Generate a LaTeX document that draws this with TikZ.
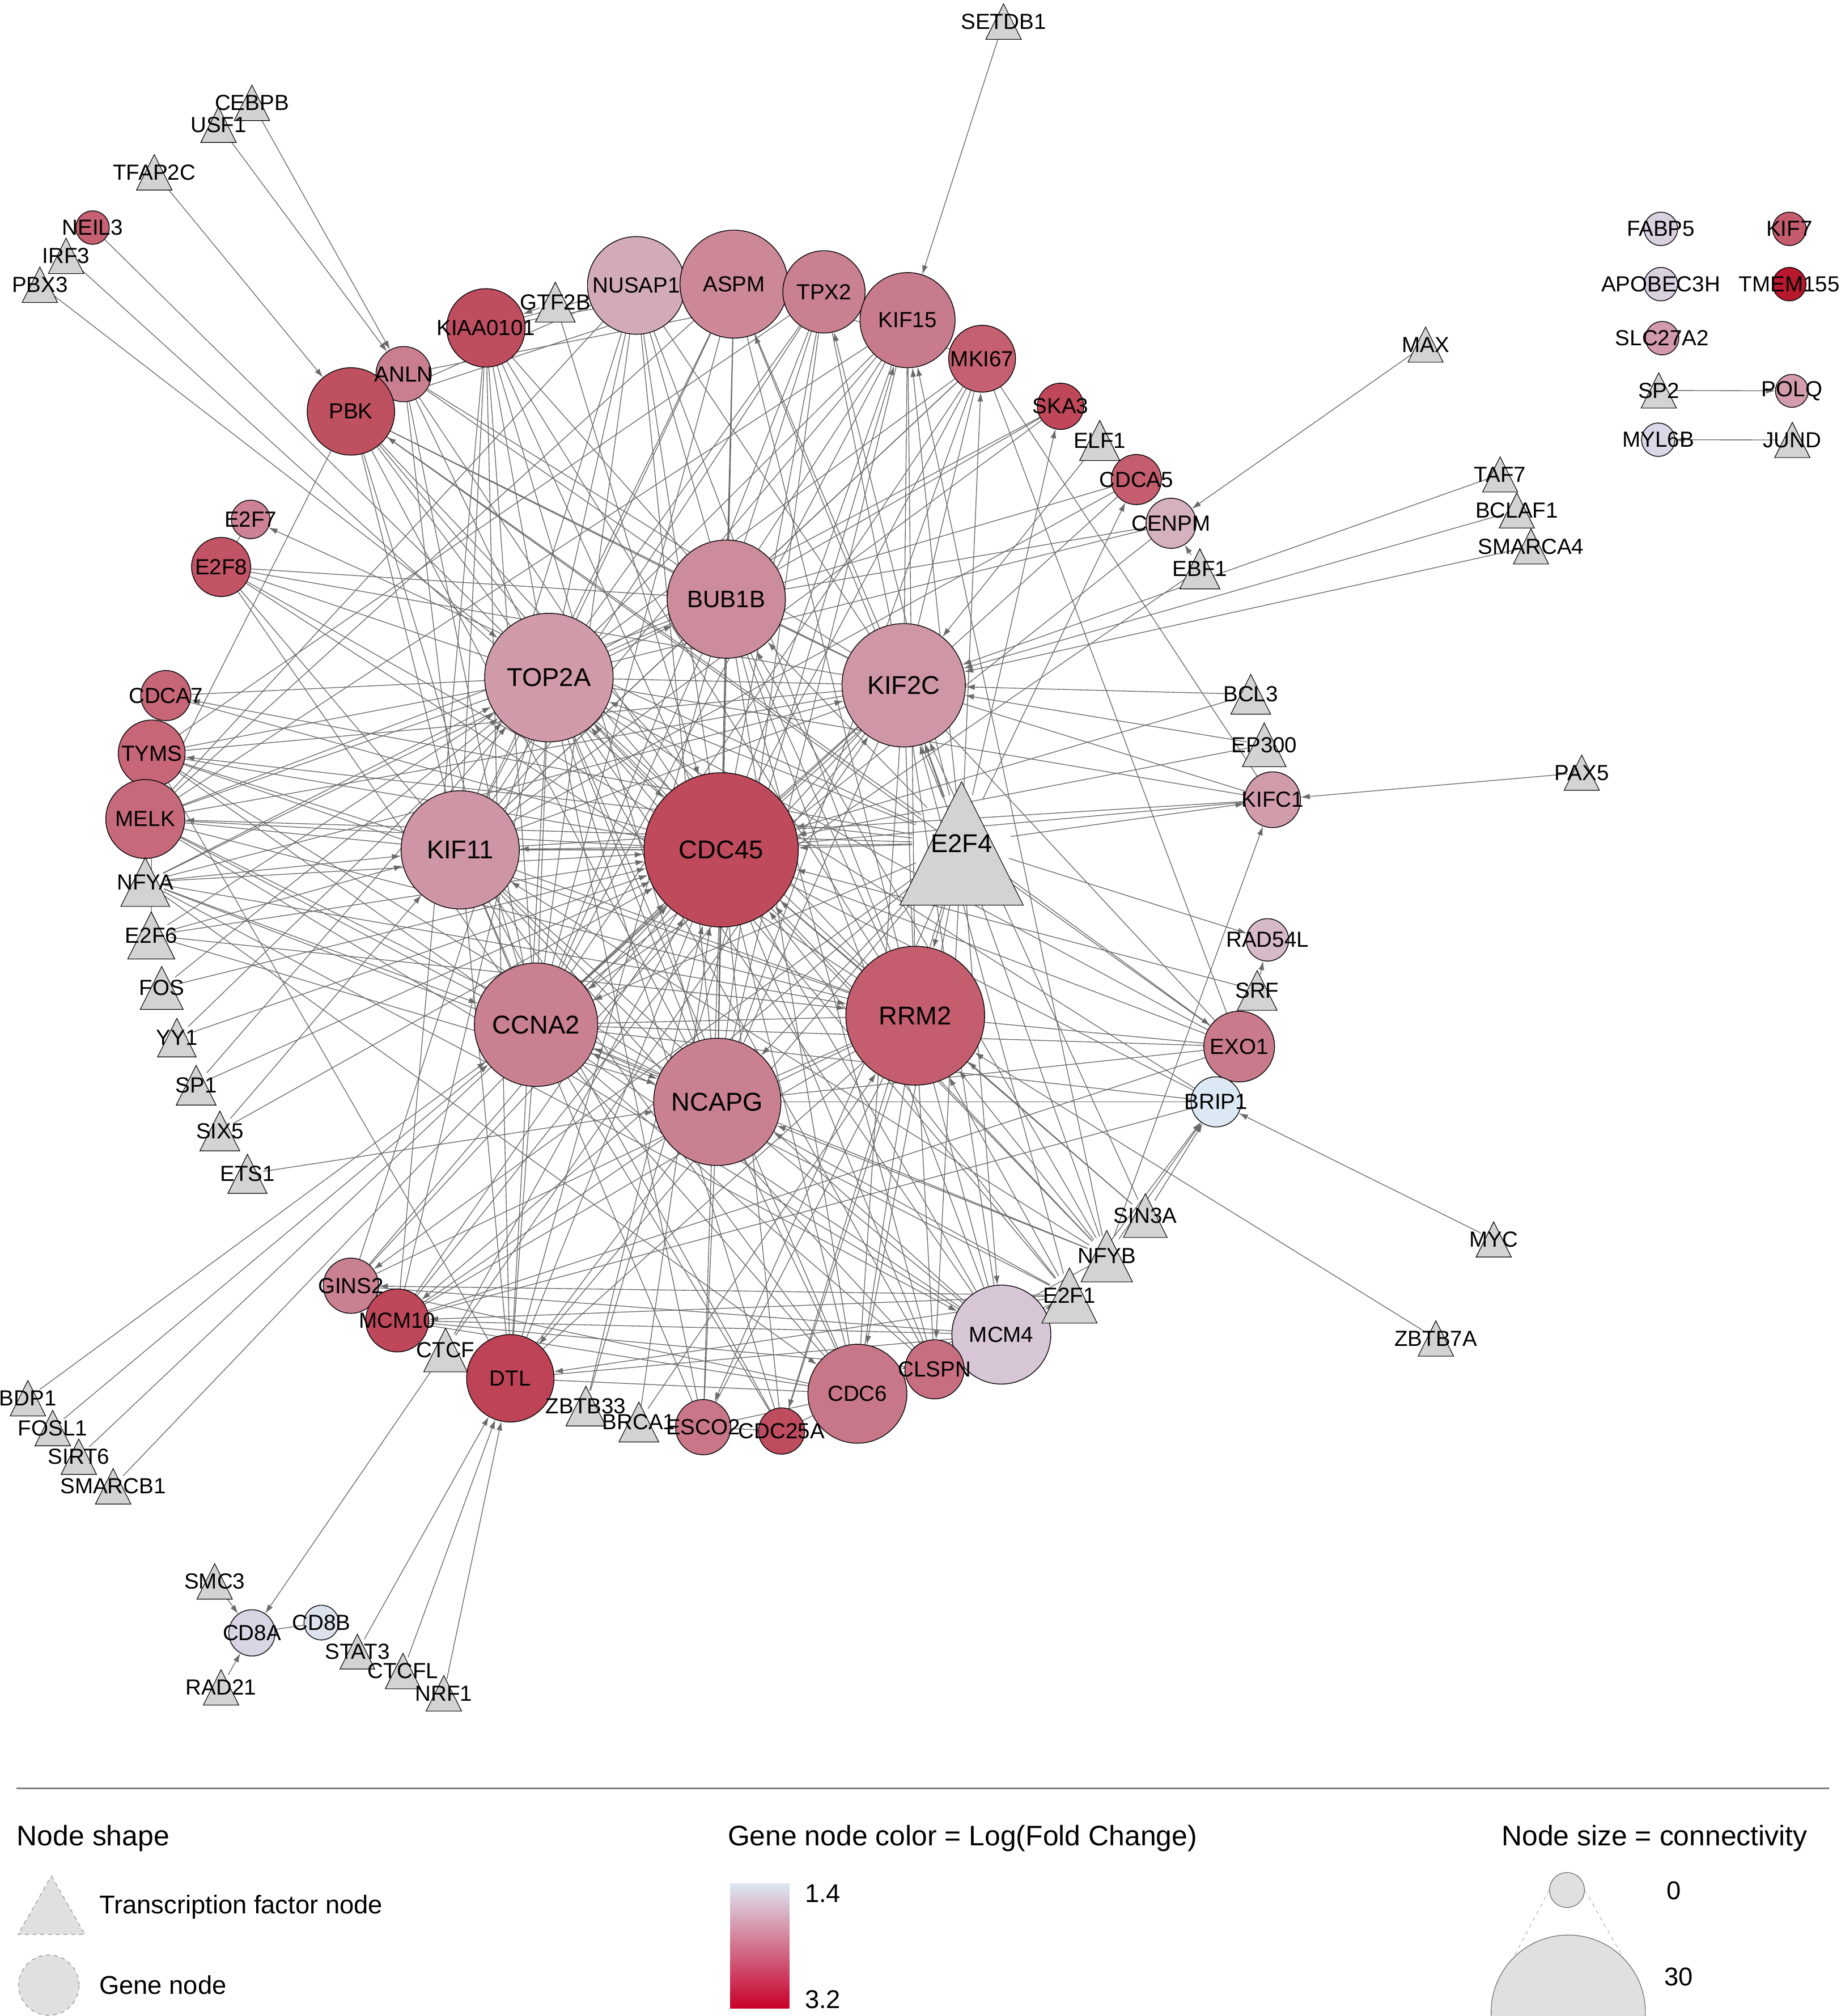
\documentclass[tikz,border=0pt]{standalone}
\usepackage{fontspec}
\setmainfont{Liberation Sans}
\usetikzlibrary{arrows.meta,backgrounds}
\pgfdeclarelayer{foreground}
\pgfsetlayers{background,main,foreground}
\definecolor{edgec}{HTML}{6A6A6A}
\definecolor{tfc}{HTML}{D3D3D3}
\definecolor{legc}{HTML}{E0E0E0}
\definecolor{grTop}{HTML}{DDE7F3}
\definecolor{grMid}{HTML}{D699AA}
\definecolor{grBot}{HTML}{C8002A}
\tikzset{
  gene/.style={circle, draw=black, line width=0.6pt, inner sep=0pt},
  tfn/.style={circle, draw=none, inner sep=0pt},
  tfshape/.style={fill=tfc, draw=black, line width=0.5pt, line join=miter},
  lab/.style={inner sep=0pt, text=black},
  fsm/.style={font=\fontsize{17}{19}\selectfont},
  fmid/.style={font=\fontsize{18.5}{20}\selectfont},
  fbig/.style={font=\fontsize{20}{22}\selectfont},
  fleg/.style={font=\fontsize{22}{24}\selectfont},
  fitem/.style={font=\fontsize{20}{22}\selectfont},
  gg/.style={draw=edgec, line width=0.6pt},
  tfe/.style={draw=edgec, line width=0.6pt, -{Latex[length=7pt,width=4.5pt]}},
}
\newcommand\gn[6]{%
  \definecolor{c#1}{HTML}{#5}%
  \node[gene, minimum size=#4*2pt, fill=c#1] (#1) at (#2,#3) {};%
  \begin{pgfonlayer}{foreground}\node[lab,#6] (#1-t) at (#2,#3) {#1};\end{pgfonlayer}%
}
\newcommand\tfnode[5]{%
  \node[tfn, minimum size=#4*1.6pt] (#1) at (#2,#3) {};%
  \draw[tfshape] (#2,#3) ++(0,-#4) -- ++(#4,2*#4) -- ++(-2*#4,0) -- cycle;%
  \begin{pgfonlayer}{foreground}\node[lab,#5] (#1-t) at (#2,#3) {#1};\end{pgfonlayer}%
}
\newcommand\edgesfrom[3]{\foreach \tg in {#3} {\draw[#1] (#2) -- (\tg);}}
\begin{document}
\begin{tikzpicture}[x=1pt,y=-1pt]
\useasboundingbox (0,0) rectangle (1432,1568);
\begin{pgfonlayer}{background}
\fill[white] (0,0) rectangle (1432,1568);
\end{pgfonlayer}

% ---------- gene nodes ----------
\gn{CDC45}{561}{661}{60}{BE4A5C}{fbig}
\gn{RRM2}{712}{790}{54}{C45E6F}{fbig}
\gn{NCAPG}{558}{857}{49.5}{C98090}{fbig}
\gn{CCNA2}{417}{797}{48}{C98090}{fbig}
\gn{KIF11}{358}{661}{46}{CE95A4}{fbig}
\gn{TOP2A}{427}{527}{50}{D09AA8}{fbig}
\gn{BUB1B}{565}{466}{46}{CC8C9C}{fmid}
\gn{KIF2C}{703}{533}{48}{CF97A6}{fbig}
\gn{NUSAP1}{495}{222}{38}{D3ABB8}{fsm}
\gn{ASPM}{571}{221}{42}{CD8898}{fsm}
\gn{TPX2}{641}{227}{32}{C98192}{fsm}
\gn{KIF15}{706}{249}{37}{C87B8C}{fsm}
\gn{MKI67}{764}{279}{26}{C4606F}{fsm}
\gn{SKA3}{825}{316}{18}{BF4759}{fsm}
\gn{CDCA5}{884}{373}{19.5}{C45E6F}{fsm}
\gn{CENPM}{911}{407}{19.5}{D5B0BE}{fsm}
\gn{KIAA0101}{378}{255}{30.5}{BE4E5F}{fsm}
\gn{ANLN}{314}{291}{21.5}{C97F8F}{fsm}
\gn{PBK}{273}{320}{34}{BF5060}{fsm}
\gn{NEIL3}{72}{177}{13}{C66072}{fsm}
\gn{E2F7}{195}{404}{15}{CC8294}{fsm}
\gn{E2F8}{172}{441}{23}{C35466}{fsm}
\gn{CDCA7}{129}{541}{19.5}{C76676}{fsm}
\gn{TYMS}{118}{586}{26}{C66677}{fsm}
\gn{MELK}{113}{637}{30.7}{C66A7B}{fsm}
\gn{KIFC1}{990}{622}{21.7}{D19CAA}{fsm}
\gn{RAD54L}{986}{731}{16.5}{D6BAC8}{fsm}
\gn{EXO1}{964}{814}{27.5}{C97B8C}{fsm}
\gn{BRIP1}{946}{857}{19.5}{DDE8F5}{fsm}
\gn{GINS2}{273}{1000}{21.5}{C98090}{fsm}
\gn{MCM10}{309}{1027}{24.5}{BE4859}{fsm}
\gn{DTL}{397}{1072}{34}{BE4356}{fsm}
\gn{MCM4}{779}{1038}{38.5}{D7C6D5}{fsm}
\gn{CLSPN}{727}{1065}{23}{C76F81}{fsm}
\gn{CDC6}{667}{1084}{38.5}{C87789}{fsm}
\gn{ESCO2}{547}{1110}{21.5}{C97688}{fsm}
\gn{CDC25A}{608}{1113}{18}{BF4D5F}{fsm}
\gn{CD8A}{196}{1270}{18}{D9D5E4}{fsm}
\gn{CD8B}{250}{1262}{13.5}{DDE2EF}{fsm}
\gn{FABP5}{1292}{178}{13}{DAD1E0}{fsm}
\gn{KIF7}{1392}{178}{13}{C45C6E}{fsm}
\gn{APOBEC3H}{1292}{221}{13}{DAD1E0}{fsm}
\gn{TMEM155}{1392}{221}{13}{B8182E}{fsm}
\gn{SLC27A2}{1293}{263}{13}{D39AAB}{fsm}
\gn{POLQ}{1394}{304}{12.8}{D39DAD}{fsm}
\gn{MYL6B}{1290}{342}{13}{DAD8E6}{fsm}

% ---------- transcription factor nodes ----------
\tfnode{SETDB1}{780.7}{16.8}{13.8}{fsm}
\tfnode{CEBPB}{196}{80}{13.8}{fsm}
\tfnode{USF1}{170}{97}{13.8}{fsm}
\tfnode{TFAP2C}{120}{134}{13.8}{fsm}
\tfnode{IRF3}{51.4}{199}{13.8}{fsm}
\tfnode{PBX3}{31}{221.5}{13.8}{fsm}
\tfnode{GTF2B}{432}{235}{15.5}{fsm}
\tfnode{MAX}{1109}{268}{13.7}{fsm}
\tfnode{TAF7}{1167}{369}{13.7}{fsm}
\tfnode{BCLAF1}{1180}{397}{13.7}{fsm}
\tfnode{SMARCA4}{1191}{425}{13.7}{fsm}
\tfnode{ELF1}{855.5}{342.6}{15.6}{fsm}
\tfnode{EBF1}{933.4}{442.4}{15.6}{fsm}
\tfnode{BCL3}{973}{540}{15.5}{fsm}
\tfnode{EP300}{983.5}{579.3}{17}{fsm}
\tfnode{PAX5}{1230.5}{601}{13.7}{fsm}
\tfnode{SRF}{978}{770.3}{15.5}{fsm}
\tfnode{SIN3A}{891}{945.5}{17}{fsm}
\tfnode{NFYB}{861}{977}{20}{fsm}
\tfnode{E2F1}{832}{1007.6}{21.5}{fsm}
\tfnode{MYC}{1162}{964}{13.7}{fsm}
\tfnode{ZBTB7A}{1117}{1041}{13.8}{fsm}
\tfnode{E2F4}{748}{656}{48}{fbig}
\tfnode{NFYA}{113}{686}{19}{fsm}
\tfnode{E2F6}{117.7}{727.6}{18.3}{fsm}
\tfnode{FOS}{125.8}{768.4}{16.7}{fsm}
\tfnode{YY1}{137.6}{807}{15}{fsm}
\tfnode{SP1}{152.6}{844}{15.5}{fsm}
\tfnode{SIX5}{171}{879.6}{15.5}{fsm}
\tfnode{ETS1}{192.5}{913}{15.2}{fsm}
\tfnode{CTCF}{346.6}{1050}{17}{fsm}
\tfnode{ZBTB33}{455.8}{1093.6}{15.5}{fsm}
\tfnode{BRCA1}{497}{1106}{15.5}{fsm}
\tfnode{BDP1}{21.7}{1087.5}{13.8}{fsm}
\tfnode{FOSL1}{41}{1110.7}{13.8}{fsm}
\tfnode{SIRT6}{61.3}{1133}{13.8}{fsm}
\tfnode{SMARCB1}{88}{1156}{13.8}{fsm}
\tfnode{SMC3}{167}{1230}{13.8}{fsm}
\tfnode{STAT3}{278}{1284.6}{13.5}{fsm}
\tfnode{CTCFL}{313.5}{1299.7}{13.8}{fsm}
\tfnode{NRF1}{345.3}{1317}{13.8}{fsm}
\tfnode{RAD21}{172}{1312.4}{13.8}{fsm}
\tfnode{SP2}{1290.4}{303.7}{13.7}{fsm}
\tfnode{JUND}{1394.3}{342.2}{13.7}{fsm}

% ---------- edges ----------
\begin{pgfonlayer}{background}
% hub - hub
\edgesfrom{gg}{CDC45}{RRM2,NCAPG,CCNA2,KIF11,TOP2A,BUB1B,KIF2C}
\edgesfrom{gg}{RRM2}{NCAPG,CCNA2,KIF11,TOP2A,BUB1B,KIF2C}
\edgesfrom{gg}{NCAPG}{CCNA2,KIF11,TOP2A,BUB1B,KIF2C}
\edgesfrom{gg}{CCNA2}{KIF11,TOP2A,BUB1B,KIF2C}
\edgesfrom{gg}{KIF11}{TOP2A,BUB1B,KIF2C}
\edgesfrom{gg}{TOP2A}{BUB1B,KIF2C}
\edgesfrom{gg}{BUB1B}{KIF2C}
% peripheral genes
\edgesfrom{gg}{NUSAP1}{CDC45,TOP2A,KIF11,CCNA2,BUB1B,KIF2C,NCAPG,RRM2,ASPM,PBK,KIAA0101,MELK}
\edgesfrom{gg}{ASPM}{CDC45,TOP2A,KIF11,CCNA2,KIF2C,NCAPG,BUB1B,RRM2,KIF15,TPX2,PBK,KIAA0101,MELK,MKI67}
\edgesfrom{gg}{TPX2}{CDC45,TOP2A,KIF11,CCNA2,KIF2C,BUB1B,NCAPG,KIF15,ANLN,TYMS}
\edgesfrom{gg}{KIF15}{CDC45,TOP2A,KIF11,KIF2C,BUB1B,NCAPG,CCNA2,MELK,RRM2}
\edgesfrom{gg}{MKI67}{CDC45,TOP2A,KIF2C,CCNA2,NCAPG,KIF11,EXO1,BUB1B}
\edgesfrom{gg}{KIAA0101}{CDC45,TOP2A,KIF11,CCNA2,NCAPG,RRM2,BUB1B,DTL,MCM10}
\edgesfrom{gg}{ANLN}{KIF11,TOP2A,CDC45,BUB1B,KIF2C,CCNA2}
\edgesfrom{gg}{PBK}{CDC45,TOP2A,KIF11,CCNA2,NCAPG,BUB1B,RRM2,KIF2C,MELK,EXO1}
\edgesfrom{gg}{SKA3}{KIF11,BUB1B,TOP2A}
\edgesfrom{gg}{CDCA5}{BUB1B,CCNA2,KIF11}
\edgesfrom{gg}{CENPM}{BUB1B,TOP2A,CCNA2}
\edgesfrom{gg}{E2F7}{E2F8}
\edgesfrom{gg}{E2F8}{CDC45,TOP2A,KIF2C,RRM2,CCNA2,KIF11,BUB1B}
\edgesfrom{gg}{CDCA7}{TOP2A,CDC45}
\edgesfrom{gg}{TYMS}{CDC45,TOP2A,KIF11,RRM2,CCNA2,NCAPG,KIF2C,DTL}
\edgesfrom{gg}{MELK}{CDC45,TOP2A,KIF11,CCNA2,RRM2,NCAPG,KIF2C,BUB1B,MCM4}
\edgesfrom{gg}{KIFC1}{CDC45,KIF2C,TOP2A,KIF11,MKI67}
\edgesfrom{gg}{EXO1}{RRM2,CDC45,KIF2C,TOP2A,CCNA2,MCM10,NCAPG}
\edgesfrom{gg}{BRIP1}{CDC45,CCNA2,TOP2A,NCAPG,MCM10}
\edgesfrom{gg}{GINS2}{CDC45,RRM2,MCM4,CDC6,KIF2C,TOP2A}
\edgesfrom{gg}{MCM10}{CDC45,CDC6,MCM4,RRM2,NCAPG,KIF2C,TOP2A,CLSPN}
\edgesfrom{gg}{DTL}{CDC45,RRM2,NCAPG,CDC6,MCM4,TOP2A,CCNA2,KIF11,BUB1B}
\edgesfrom{gg}{MCM4}{CDC45,RRM2,NCAPG,CCNA2,KIF11,TOP2A,CDC6,CLSPN,BUB1B,KIF2C}
\edgesfrom{gg}{CLSPN}{CDC45,RRM2,CCNA2,CDC6,TOP2A,KIF11,BUB1B}
\edgesfrom{gg}{CDC6}{CDC45,RRM2,NCAPG,CCNA2,KIF11,TOP2A,BUB1B,KIF2C,CDC25A,ESCO2}
\edgesfrom{gg}{ESCO2}{CDC45,NCAPG,RRM2,KIF11,CDC25A,TOP2A}
\edgesfrom{gg}{CDC25A}{CDC45,RRM2,CCNA2,TOP2A,KIF11}
\edgesfrom{gg}{NEIL3}{TOP2A}
\edgesfrom{gg}{CD8A}{CD8B}
% transcription factor -> gene
\edgesfrom{tfe}{E2F4}{CDC45,KIF2C,RRM2,KIFC1,RAD54L,E2F7,CDCA7,KIF15,BUB1B,TOP2A,KIF11,NCAPG,CCNA2,MCM4,CDC6,CLSPN,ESCO2,CDC25A,DTL,EXO1,CDCA5,SKA3,MKI67,ASPM,TPX2,MELK,TYMS,PBK,MCM10,GINS2}
\edgesfrom{tfe}{NFYA}{CDC45,KIF11,TOP2A,CCNA2,NCAPG,RRM2,KIF2C,CDC6,MCM4,BUB1B}
\edgesfrom{tfe}{NFYB}{RRM2,CDC45,KIF2C,BRIP1,KIFC1,CCNA2,NCAPG,TOP2A,KIF11,CDC6,KIF15,BUB1B}
\edgesfrom{tfe}{E2F1}{RRM2,CDC45,BRIP1,KIF2C,MCM4,CDC6,NCAPG,CCNA2,GINS2,DTL,MCM10,TOP2A}
\edgesfrom{tfe}{SIN3A}{BRIP1,RRM2,CDC45,KIF2C}
\edgesfrom{tfe}{E2F6}{CDC45,TOP2A,KIF11,RRM2,TYMS,NCAPG}
\edgesfrom{tfe}{FOS}{TOP2A,CDC45}
\edgesfrom{tfe}{YY1}{TOP2A,CDC45}
\edgesfrom{tfe}{SP1}{TOP2A,CDC45}
\edgesfrom{tfe}{SIX5}{KIF11,CDC45}
\edgesfrom{tfe}{ETS1}{NCAPG}
\edgesfrom{tfe}{BDP1}{CCNA2}
\edgesfrom{tfe}{FOSL1}{CCNA2}
\edgesfrom{tfe}{SIRT6}{CDC45}
\edgesfrom{tfe}{SMARCB1}{CDC45}
\edgesfrom{tfe}{CTCF}{CD8A,CDC45,KIF2C}
\edgesfrom{tfe}{ZBTB33}{CDC45,KIF15}
\edgesfrom{tfe}{BRCA1}{CDC45,RRM2}
\edgesfrom{tfe}{STAT3}{DTL}
\edgesfrom{tfe}{CTCFL}{DTL}
\edgesfrom{tfe}{NRF1}{DTL}
\edgesfrom{tfe}{SMC3}{CD8A}
\edgesfrom{tfe}{RAD21}{CD8A}
\edgesfrom{tfe}{GTF2B}{KIAA0101,CDC45}
\edgesfrom{tfe}{CEBPB}{ANLN}
\edgesfrom{tfe}{USF1}{ANLN}
\edgesfrom{tfe}{TFAP2C}{PBK}
\edgesfrom{tfe}{PBX3}{TOP2A}
\edgesfrom{tfe}{IRF3}{CDC45}
\edgesfrom{tfe}{SETDB1}{KIF15}
\edgesfrom{tfe}{MAX}{CENPM}
\edgesfrom{tfe}{TAF7}{KIF2C}
\edgesfrom{tfe}{BCLAF1}{KIF2C}
\edgesfrom{tfe}{SMARCA4}{KIF2C}
\edgesfrom{tfe}{ELF1}{KIF2C}
\edgesfrom{tfe}{EBF1}{CENPM,CCNA2}
\edgesfrom{tfe}{BCL3}{KIF2C,CDC45}
\edgesfrom{tfe}{EP300}{KIF2C,CDC45}
\edgesfrom{tfe}{PAX5}{KIFC1}
\edgesfrom{tfe}{SRF}{RAD54L,CDC45}
\edgesfrom{tfe}{MYC}{BRIP1}
\edgesfrom{tfe}{ZBTB7A}{RRM2}
\edgesfrom{tfe}{SP2}{POLQ}
\edgesfrom{tfe}{JUND}{MYL6B}
\end{pgfonlayer}

% ---------- legend ----------
\coordinate (sepL) at (13,1391);
\coordinate (sepR) at (1423,1391);
\draw[draw=black!50, line width=1.2pt] (sepL) -- (sepR);
\node[lab, fleg, anchor=west] (lgShape) at (13,1430) {Node shape};
\node[lab, fleg, anchor=west] (lgColor) at (566,1430) {Gene node color = Log(Fold Change)};
\node[lab, fleg, anchor=west] (lgSize) at (1168,1430) {Node size = connectivity};
\draw[fill=legc, draw=black!45, line width=0.5pt, dashed] (40,1459) -- (66,1504.5) -- (14,1504.5) -- cycle;
\node[lab, fitem, anchor=west] (lgTF) at (77,1483) {Transcription factor node};
\node[circle, inner sep=0pt, minimum size=47pt, fill=legc, draw=black!45, line width=0.5pt, dashed] (lgGeneC) at (38,1544) {};
\node[lab, fitem, anchor=west] (lgGene) at (77,1544) {Gene node};
\shade[top color=grTop, middle color=grMid, bottom color=grBot] (568,1465) rectangle (614,1562);
\node[lab, fitem, anchor=west] (lgLo) at (626,1472.5) {1.4};
\node[lab, fitem, anchor=west] (lgHi) at (626,1555) {3.2};
\node[circle, inner sep=0pt, minimum size=27.2pt, fill=legc, draw=black!60, line width=0.5pt] (szSmall) at (1219,1470) {};
\node[circle, inner sep=0pt, minimum size=120pt, fill=legc, draw=black!60, line width=0.5pt] (szBig) at (1220,1565) {};
\draw[draw=black!30, dashed, line width=0.5pt] (szSmall.west) -- (szBig.north west);
\draw[draw=black!30, dashed, line width=0.5pt] (szSmall.east) -- (szBig.north east);
\node[lab, fitem] (sz0) at (1302,1470.6) {0};
\node[lab, fitem] (sz30) at (1306,1537.6) {30};
\end{tikzpicture}
\end{document}
